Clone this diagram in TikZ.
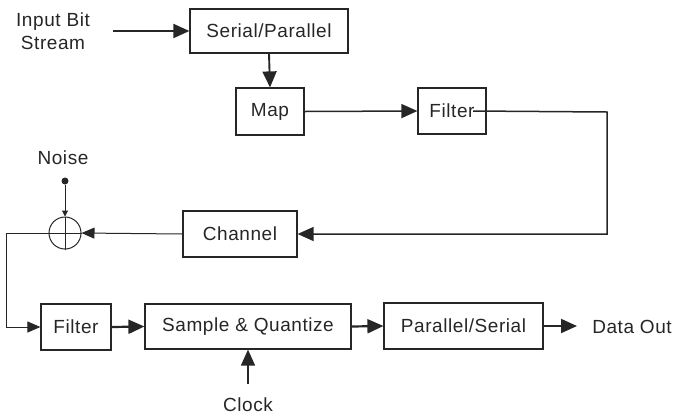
\documentclass[tikz,border=0pt]{standalone}
\usepackage{fontspec}
\setmainfont{Liberation Sans}[LetterSpace=3]
\usetikzlibrary{arrows.meta}
\colorlet{ink}{black!85}

\begin{document}
\begin{tikzpicture}[x=1pt, y=-1pt,
    font=\fontsize{19}{23}\selectfont,
    block/.style={draw=ink, line width=1.2pt, text=ink, inner sep=0pt},
    wire/.style={draw=ink, line width=1.9pt, -{Triangle[length=16pt,width=14pt]}},
    thinwire/.style={draw=ink, line width=1pt, -{Triangle[length=13pt,width=11pt]}},
    lbl/.style={text=ink, align=center}]
    \useasboundingbox (0,0) rectangle (676,416);

    % Bloques del transmisor
    \node[lbl] (in) at (53,31) {Input Bit\\Stream};
    \node[block, minimum width=158pt, minimum height=44pt] (sp) at (269,31) {Serial/Parallel};
    \node[block, minimum width=68pt, minimum height=47pt] (map) at (270,111.5) {Map};
    \node[block, minimum width=68pt, minimum height=46pt] (filt) at (452,111) {Filter};

    % Canal y ruido
    \node[block, minimum width=114pt, minimum height=46pt] (chan) at (240,234) {Channel};
    \node[draw=ink, line width=1pt, circle, minimum size=32pt, inner sep=0pt] (sum) at (65,233) {};
    \draw[ink, line width=1pt] (sum.north) -- (sum.south) (sum.west) -- (sum.east);
    \node[lbl] (noise) at (63,158) {Noise};
    \node[circle, fill=ink, inner sep=0pt, minimum size=7pt] (dot) at (65,181) {};

    % Bloques del receptor
    \node[block, minimum width=70pt, minimum height=46pt] (rfilt) at (76,327) {Filter};
    \node[block, minimum width=206pt, minimum height=45pt] (sq) at (248,326.5) {Sample \& Quantize};
    \node[block, minimum width=159pt, minimum height=46pt] (ps) at (463.5,326) {Parallel/Serial};
    \node[lbl] (out) at (632,327) {Data Out};
    \node[lbl] (clk) at (248,405) {Clock};

    % Puntos de paso
    \coordinate (turn) at (607,112);
    \coordinate (left) at (6,233);
    \coordinate (tip) at (577,326);
    \coordinate (clkin) at (248,384);

    % Conexiones
    \draw[wire] ([xshift=20pt]in.east |- sp.west) -- (sp.west);
    \draw[wire] (sp.south) -- (map.north);
    \draw[wire, line width=1.5pt] (map.east) -- (filt.west);
    \draw[wire, line width=1.5pt] ([xshift=21pt]filt.center) -- (turn) |- (chan.east);
    \draw[thinwire] (chan.west) -- (sum.east);
    \draw[draw=ink, line width=1pt, -{Triangle[length=6pt,width=6pt]}] (dot) -- (sum.north);
    \draw[thinwire] (sum.west) -- (left) |- (rfilt.west);
    \draw[wire, line width=2.2pt] (rfilt.east) -- (sq.west);
    \draw[wire, line width=2.2pt] (sq.east) -- (ps.west);
    \draw[wire] (ps.east) -- (tip);
    \draw[wire, line width=1.6pt] (clkin) -- (sq.south);
\end{tikzpicture}
\end{document}
